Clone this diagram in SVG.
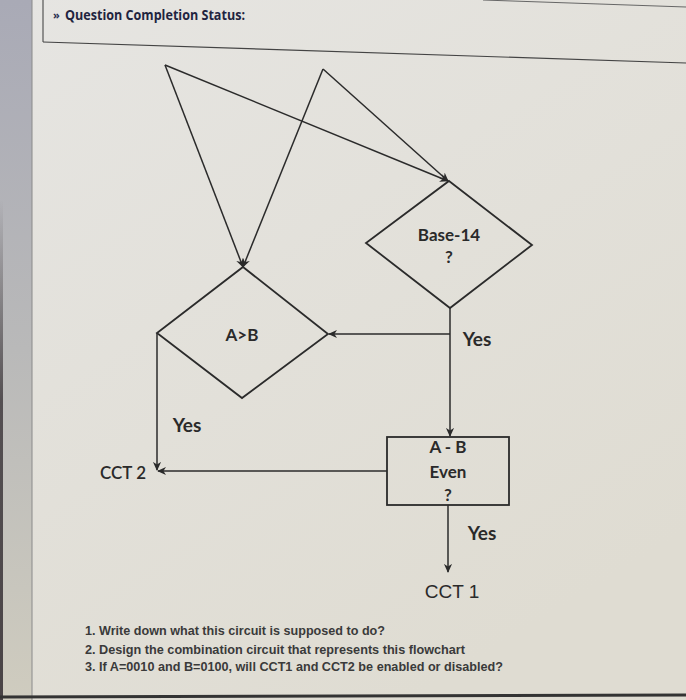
<svg xmlns="http://www.w3.org/2000/svg" width="686" height="700" viewBox="0 0 686 700">
<defs>
<marker id="arr" viewBox="0 0 10 10" refX="9" refY="5" markerWidth="9" markerHeight="9" markerUnits="userSpaceOnUse" orient="auto">
<path d="M0,0.5 L10,5 L0,9.5 L3,5 Z" fill="#2a2a2a"/>
</marker>
<linearGradient id="bg" x1="0" y1="0" x2="0.6" y2="1">
<stop offset="0" stop-color="#e6e5e2"/>
<stop offset="1" stop-color="#dfdcd2"/>
</linearGradient>
<linearGradient id="strip" x1="0" y1="0" x2="0" y2="1">
<stop offset="0" stop-color="#a9aab6"/>
<stop offset="0.5" stop-color="#b9b9b9"/>
<stop offset="1" stop-color="#cfccbf"/>
</linearGradient>
<linearGradient id="edge" x1="0" y1="0" x2="0" y2="1">
<stop offset="0" stop-color="#3a3438" stop-opacity="0"/>
<stop offset="0.4" stop-color="#3a3438" stop-opacity="0.8"/>
<stop offset="1" stop-color="#3a3438" stop-opacity="0.9"/>
</linearGradient>
</defs>
<style>
.ln{stroke:#2b2b2b;stroke-width:1.5;fill:none}
.sh{stroke:#2b2b2b;stroke-width:1.8;fill:none}
.lb{font-family:Lato,"Liberation Sans",sans-serif;font-weight:bold;fill:#2a2a2a;text-anchor:middle}
.q{font-family:"Liberation Sans",Arial,sans-serif;font-weight:bold;font-size:13px;fill:#3a3a3a}
</style>
<rect width="686" height="700" fill="url(#bg)"/>
<rect x="0" y="0" width="32" height="700" fill="url(#strip)"/>
<rect x="0" y="200" width="3" height="500" fill="url(#edge)"/>
<line x1="32" y1="0" x2="32" y2="700" stroke="#8a8a8a" stroke-width="1"/>
<line x1="43" y1="0" x2="43" y2="42" stroke="#555" stroke-width="1.2"/>
<line x1="43" y1="42" x2="686" y2="63" stroke="#444" stroke-width="1.2"/>
<line x1="483" y1="0" x2="686" y2="7" stroke="#666" stroke-width="1"/>
<line x1="0" y1="697" x2="686" y2="695" stroke="#333" stroke-width="3"/>
<g id="title">
<text x="53" y="19" font-family="'Open Sans',sans-serif" font-size="11" font-weight="bold" fill="#2b3050">»</text>
<text x="65" y="20" font-family="'Open Sans','Liberation Sans',sans-serif" font-weight="bold" font-size="14" fill="#1f2440" textLength="180" lengthAdjust="spacingAndGlyphs">Question Completion Status:</text>
</g>
<g id="connectors">
<line class="ln" x1="165" y1="65" x2="243" y2="267" marker-end="url(#arr)"/>
<line class="ln" x1="323" y1="69" x2="243" y2="267" marker-end="url(#arr)"/>
<line class="ln" x1="165" y1="65" x2="448" y2="181" marker-end="url(#arr)"/>
<line class="ln" x1="323" y1="69" x2="448" y2="181" marker-end="url(#arr)"/>
<line class="ln" x1="450" y1="334" x2="329" y2="334" marker-end="url(#arr)"/>
<line class="ln" x1="450" y1="308" x2="450" y2="436" marker-end="url(#arr)"/>
<line class="ln" x1="157" y1="333" x2="157" y2="470" marker-end="url(#arr)"/>
<line class="ln" x1="387" y1="471" x2="158" y2="471" marker-end="url(#arr)"/>
<line class="ln" x1="448" y1="505" x2="448" y2="572" marker-end="url(#arr)"/>
</g>
<g id="base14">
<polygon class="sh" points="449,181 532,245 450,308 366,243"/>
<text class="lb" x="449" y="241" font-size="17">Base-14</text>
<text class="lb" x="449" y="263" font-size="17">?</text>
</g>
<g id="agtb">
<polygon class="sh" points="243,267 328,334 242,398 157,333"/>
<text class="lb" x="242" y="341" font-size="17">A&gt;B</text>
</g>
<g id="amb">
<rect class="sh" x="387" y="437" width="122" height="68"/>
<text class="lb" x="448" y="453" font-size="17">A - B</text>
<text class="lb" x="448" y="478" font-size="17">Even</text>
<text class="lb" x="448" y="501" font-size="17">?</text>
</g>
<g id="labels">
<text class="lb" x="477" y="346" font-size="19">Yes</text>
<text class="lb" x="187" y="432" font-size="19">Yes</text>
<text class="lb" x="482" y="540" font-size="19">Yes</text>
<text x="146" y="479" font-family="Lato,'Liberation Sans',sans-serif" font-size="17" fill="#2a2a2a" text-anchor="end" font-weight="600">CCT 2</text>
<text x="452" y="598" font-family="'Liberation Sans',Arial,sans-serif" font-size="19" fill="#2a2a2a" text-anchor="middle">CCT 1</text>
</g>
<g id="questions">
<text class="q" x="85" y="635" textLength="300" lengthAdjust="spacingAndGlyphs">1. Write down what this circuit is supposed to do?</text>
<text class="q" x="85" y="654" textLength="380" lengthAdjust="spacingAndGlyphs">2. Design the combination circuit that represents this flowchart</text>
<text class="q" x="85" y="671" textLength="418" lengthAdjust="spacingAndGlyphs">3. If A=0010 and B=0100, will CCT1 and CCT2 be enabled or disabled?</text>
</g>
</svg>
